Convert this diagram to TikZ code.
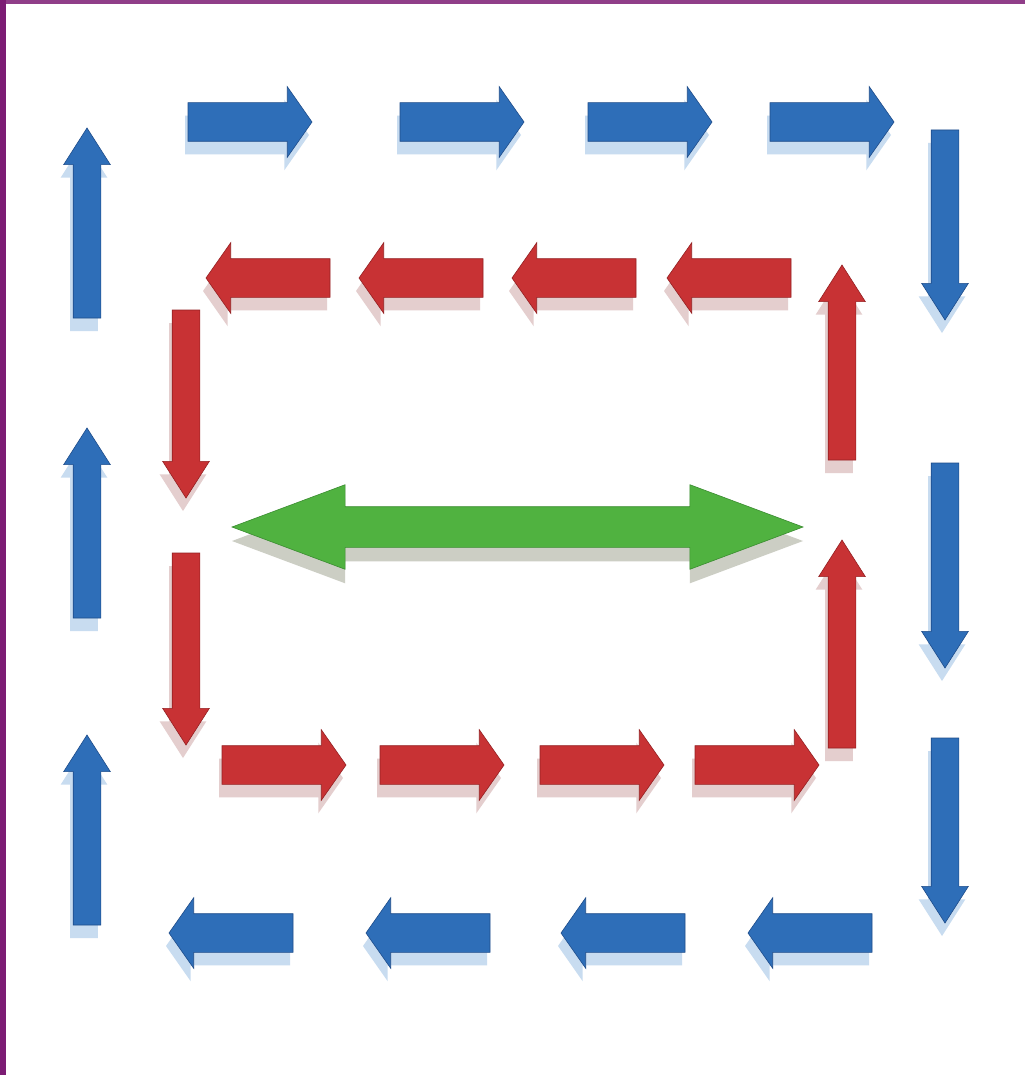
\documentclass[tikz,border=0pt]{standalone}
\usetikzlibrary{shapes.arrows,shadows}
\definecolor{ringblue}{RGB}{46,110,184}
\definecolor{ringblueedge}{RGB}{30,76,138}
\definecolor{ringbluepale}{RGB}{200,220,240}
\definecolor{ringred}{RGB}{200,50,52}
\definecolor{ringrededge}{RGB}{148,32,34}
\definecolor{ringredpale}{RGB}{228,206,206}
\definecolor{midgreen}{RGB}{80,178,64}
\definecolor{midgreenedge}{RGB}{58,140,48}
\definecolor{midgreenpale}{RGB}{204,206,196}
\definecolor{framepurple}{RGB}{124,28,116}

\begin{document}
\begin{tikzpicture}[
    x=1pt, y=-1pt,
    blockarrow/.style={single arrow, inner xsep=0pt, outer sep=0pt,
                       line width=0.6pt, anchor=tail},
    flat/.style={blockarrow, inner ysep=19pt, single arrow head extend=16pt,
                 single arrow tip angle=110, minimum height=124pt},
    tall/.style={blockarrow, inner ysep=13.5pt, single arrow head extend=9.5pt,
                 single arrow tip angle=65, minimum height=#1},
    bluefill/.style={fill=ringblue, draw=ringblueedge,
                     copy shadow={shadow xshift=-3pt, shadow yshift=-13pt,
                                  fill=ringbluepale, draw=none}},
    redfill/.style={fill=ringred, draw=ringrededge,
                    copy shadow={shadow xshift=-3pt, shadow yshift=-13pt,
                                 fill=ringredpale, draw=none}}
]

% One unit is one pixel of the slide, y runs downwards.
\fill[white] (0,0) rectangle (1025,1075);
\fill[framepurple] (0,0) rectangle (6,1075);
\fill[framepurple!85!white] (6,0) rectangle (1025,4);

% ---------- outer ring, blue ----------
\foreach \t [count=\i] in {188,400,588,770}
  \node[flat, bluefill] (top\i) at (\t,122) {};
\foreach \t/\l [count=\i] in {130/190pt, 463/205pt, 738/185pt}
  \node[tall=\l, bluefill, rotate=-90] (rgt\i) at (945,\t) {};
\foreach \t [count=\i] in {872,685,490,293}
  \node[flat, bluefill, rotate=180] (bot\i) at (\t,933) {};
\foreach \t [count=\i] in {925,618,318}
  \node[tall=190pt, bluefill, rotate=90] (lft\i) at (87,\t) {};

% ---------- inner ring, red ----------
\foreach \t [count=\i] in {791,636,483,330}
  \node[flat, redfill, rotate=180] (itop\i) at (\t,278) {};
\foreach \t/\l [count=\i] in {310/188pt, 553/192pt}
  \node[tall=\l, redfill, rotate=-90] (ilft\i) at (186,\t) {};
\foreach \t [count=\i] in {222,380,540,695}
  \node[flat, redfill] (ibot\i) at (\t,765) {};
\foreach \t/\l [count=\i] in {748/208pt, 460/195pt}
  \node[tall=\l, redfill, rotate=90] (irgt\i) at (842,\t) {};

% ---------- middle, green ----------
\node[double arrow, inner xsep=0pt, inner ysep=20pt, line width=0.6pt,
      double arrow head extend=22pt, double arrow tip angle=41,
      minimum height=571pt, fill=midgreen, draw=midgreenedge,
      copy shadow={shadow xshift=0pt, shadow yshift=-14pt,
                   fill=midgreenpale, draw=none}]
      (mid) at (517.5,527) {};

\end{tikzpicture}
\end{document}
